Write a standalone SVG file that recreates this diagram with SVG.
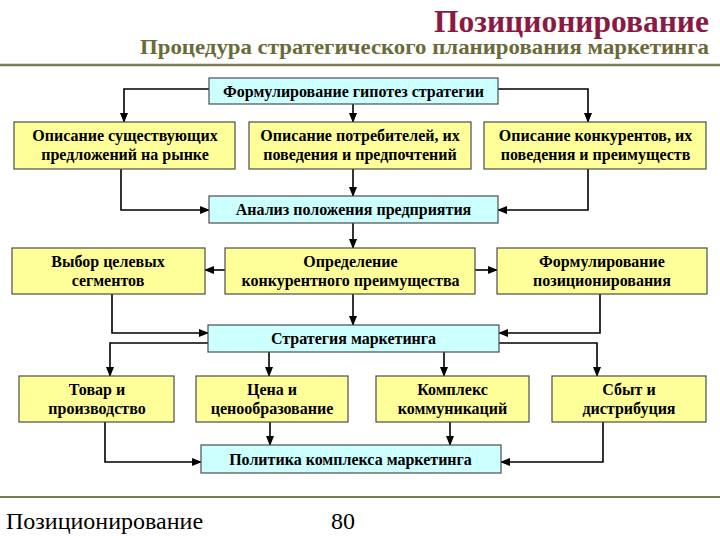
<svg xmlns="http://www.w3.org/2000/svg" width="720" height="540" viewBox="0 0 720 540">
<defs>
<marker id="ah" markerWidth="10" markerHeight="8" refX="9" refY="4" orient="auto" markerUnits="userSpaceOnUse">
<path d="M0,0 L10,4 L0,8 Z" fill="#000"/>
</marker>
<style>
.y{fill:#FFFF99;stroke:#4d4d4d;stroke-width:1.2}
.c{fill:#CCFFFF;stroke:#4d4d4d;stroke-width:1.2}
.t{font-family:"Liberation Serif","Times New Roman",serif;font-weight:bold;font-size:16px;fill:#000;text-anchor:middle}
.ln{fill:none;stroke:#000;stroke-width:1.6;marker-end:url(#ah)}
.hd{font-family:"Liberation Serif","Times New Roman",serif;font-weight:bold;text-anchor:end}
.ft{font-family:"Liberation Serif","Times New Roman",serif;font-size:24px;fill:#000}
</style>
</defs>
<rect width="720" height="540" fill="#fff"/>
<text class="hd" x="709" y="32" font-size="32" fill="#8B1A42" textLength="275" lengthAdjust="spacingAndGlyphs">Позиционирование</text>
<text class="hd" x="709" y="54" font-size="21" fill="#6B6B3A" textLength="569" lengthAdjust="spacingAndGlyphs">Процедура стратегического планирования маркетинга</text>
<line x1="0" y1="65" x2="720" y2="65" stroke="#7A7A55" stroke-width="2.5"/>
<line x1="0" y1="497" x2="720" y2="497" stroke="#7A7A55" stroke-width="2"/>
<text class="ft" x="6" y="529">Позиционирование</text>
<text class="ft" x="331" y="529">80</text>

<g id="connectors">
<path class="ln" d="M209,89 H124 V122"/>
<path class="ln" d="M353,104 V122"/>
<path class="ln" d="M498,89 H588 V122"/>
<path class="ln" d="M121,169 V210 H209"/>
<path class="ln" d="M353,169 V196"/>
<path class="ln" d="M588,169 V210 H498"/>
<path class="ln" d="M353,223 V248"/>
<path class="ln" d="M225,270 H205"/>
<path class="ln" d="M475,270 H497"/>
<path class="ln" d="M112,294 V333 H208"/>
<path class="ln" d="M353,294 V325"/>
<path class="ln" d="M600,294 V333 H499"/>
<path class="ln" d="M208,343 H110 V376"/>
<path class="ln" d="M269,352 V376"/>
<path class="ln" d="M444,352 V376"/>
<path class="ln" d="M499,343 H597 V376"/>
<path class="ln" d="M105,422 V462 H201"/>
<path class="ln" d="M270,422 V445"/>
<path class="ln" d="M450,422 V445"/>
<path class="ln" d="M603,422 V462 H501"/>
</g>

<g id="n_hyp"><rect class="c" x="209" y="78" width="289" height="26"/><text class="t" x="353.5" y="97">Формулирование гипотез стратегии</text></g>
<g id="n_offer"><rect class="y" x="14" y="122" width="221" height="47"/><text class="t" x="125" y="141">Описание существующих</text><text class="t" x="125" y="160">предложений на рынке</text></g>
<g id="n_cons"><rect class="y" x="249" y="122" width="222" height="47"/><text class="t" x="360" y="141">Описание потребителей, их</text><text class="t" x="360" y="160">поведения и предпочтений</text></g>
<g id="n_comp"><rect class="y" x="484" y="122" width="222" height="47"/><text class="t" x="595.5" y="141">Описание конкурентов, их</text><text class="t" x="595.5" y="160">поведения и преимуществ</text></g>
<g id="n_anal"><rect class="c" x="209" y="196" width="289" height="27"/><text class="t" x="353.5" y="215">Анализ положения предприятия</text></g>
<g id="n_seg"><rect class="y" x="12" y="248" width="193" height="46"/><text class="t" x="108" y="267">Выбор целевых</text><text class="t" x="108" y="286">сегментов</text></g>
<g id="n_adv"><rect class="y" x="225" y="248" width="250" height="46"/><text class="t" x="350.5" y="267">Определение</text><text class="t" x="350.5" y="286">конкурентного преимущества</text></g>
<g id="n_pos"><rect class="y" x="497" y="248" width="210" height="46"/><text class="t" x="602" y="267">Формулирование</text><text class="t" x="602" y="286">позиционирования</text></g>
<g id="n_strat"><rect class="c" x="208" y="325" width="291" height="27"/><text class="t" x="353.5" y="344">Стратегия маркетинга</text></g>
<g id="n_prod"><rect class="y" x="19" y="376" width="155" height="46"/><text class="t" x="97" y="395">Товар и</text><text class="t" x="97" y="414">производство</text></g>
<g id="n_price"><rect class="y" x="196" y="376" width="152" height="46"/><text class="t" x="272" y="395">Цена и</text><text class="t" x="272" y="414">ценообразование</text></g>
<g id="n_comm"><rect class="y" x="376" y="376" width="153" height="46"/><text class="t" x="452.5" y="395">Комплекс</text><text class="t" x="452.5" y="414">коммуникаций</text></g>
<g id="n_dist"><rect class="y" x="552" y="376" width="154" height="46"/><text class="t" x="629" y="395">Сбыт и</text><text class="t" x="629" y="414">дистрибуция</text></g>
<g id="n_mix"><rect class="c" x="201" y="445" width="300" height="28"/><text class="t" x="350.5" y="465">Политика комплекса маркетинга</text></g>
</svg>
